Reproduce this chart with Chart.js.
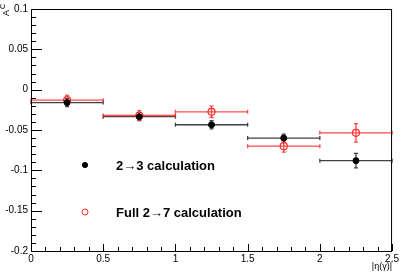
<!DOCTYPE html>
<html>
<head>
<meta charset="utf-8">
<script src="https://cdn.jsdelivr.net/npm/chart.js@4/dist/chart.umd.min.js"></script>
<style>
  html, body { margin: 0; padding: 0; background: #fff; }
  #wrap { width: 401px; height: 273px; }
</style>
</head>
<body>
<div id="wrap"><canvas id="asym"></canvas></div>
<script>
// bin centres and half widths in |eta(gamma)|
const etaCentres = [0.25, 0.75, 1.25, 1.75, 2.25];
const etaHalfWidth = [0.25, 0.25, 0.25, 0.25, 0.25];

// 2->3 calculation
const ac23 = [-0.016, -0.0335, -0.0435, -0.060, -0.088];
const ac23Err = [0.005, 0.005, 0.005, 0.005, 0.009];

// full 2->7 calculation
const ac27 = [-0.013, -0.032, -0.0275, -0.070, -0.0535];
const ac27Err = [0.006, 0.006, 0.007, 0.0075, 0.0115];

const xTicks = [0, 0.5, 1, 1.5, 2, 2.5];
const yTicks = [0.1, 0.05, 0, -0.05, -0.1, -0.15, -0.2];

const legendLabels = ["2\u21923 calculation", "Full 2\u21927 calculation"];

const BLACK = "#000000";
const RED = "#ff2a2a";

function points(vals) {
    return etaCentres.map((x, i) => ({ x: x, y: vals[i] }));
}

// draws x and y error bars using the chart scales
const errorBars = {
    id: "errorBars",
    beforeDatasetsDraw(chart) {
        const ctx = chart.ctx;
        const xs = chart.scales.x, ys = chart.scales.y;
        chart.data.datasets.forEach(ds => {
            ctx.save();
            ctx.strokeStyle = ds.barColor;
            ctx.lineWidth = 1.3;
            ds.data.forEach((p, i) => {
                const x0 = xs.getPixelForValue(p.x - etaHalfWidth[i]);
                const x1 = Math.min(xs.getPixelForValue(p.x + etaHalfWidth[i]), chart.chartArea.right);
                const yc = ys.getPixelForValue(p.y);
                const xc = xs.getPixelForValue(p.x);
                const ylo = ys.getPixelForValue(p.y - ds.err[i]);
                const yhi = ys.getPixelForValue(p.y + ds.err[i]);
                ctx.beginPath();
                ctx.moveTo(x0, yc); ctx.lineTo(x1, yc);
                ctx.moveTo(x0, yc - 2); ctx.lineTo(x0, yc + 2);
                ctx.moveTo(x1, yc - 2); ctx.lineTo(x1, yc + 2);
                ctx.moveTo(xc, ylo); ctx.lineTo(xc, yhi);
                ctx.moveTo(xc - 2, ylo); ctx.lineTo(xc + 2, ylo);
                ctx.moveTo(xc - 2, yhi); ctx.lineTo(xc + 2, yhi);
                ctx.stroke();
            });
            ctx.restore();
        });
    }
};

// ROOT style frame, inward ticks, titles and legend
const rootFrame = {
    id: "rootFrame",
    afterDraw(chart) {
        const ctx = chart.ctx;
        const a = chart.chartArea;
        const xs = chart.scales.x, ys = chart.scales.y;
        ctx.save();
        ctx.strokeStyle = "#000";
        ctx.lineWidth = 1;
        ctx.strokeRect(a.left + 0.5, a.top + 0.5, a.right - a.left - 1, a.bottom - a.top);

        ctx.beginPath();
        for (let v = -0.2; v <= 0.1001; v += 0.01) {
            const y = Math.round(ys.getPixelForValue(v)) + 0.5;
            const major = Math.abs(Math.round(v * 100) % 5) === 0;
            ctx.moveTo(a.left, y);
            ctx.lineTo(a.left + (major ? 11 : 5), y);
        }
        for (let v = 0; v <= 2.5001; v += 0.1) {
            const x = Math.round(xs.getPixelForValue(v)) + 0.5;
            const major = Math.round(v * 10) % 5 === 0;
            ctx.moveTo(x, a.bottom);
            ctx.lineTo(x, a.bottom - (major ? 7 : 4));
        }
        ctx.stroke();

        // axis titles
        ctx.fillStyle = "#000";
        ctx.font = "9px 'Liberation Sans', Arial, sans-serif";
        ctx.textAlign = "right";
        ctx.textBaseline = "middle";
        ctx.fillText("|\u03b7(\u03b3)|", a.right, 267);

        ctx.save();
        ctx.translate(9, 16);
        ctx.rotate(-Math.PI / 2);
        ctx.textAlign = "left";
        ctx.textBaseline = "alphabetic";
        ctx.font = "9px 'Liberation Sans', Arial, sans-serif";
        ctx.fillText("A", 0, 0);
        ctx.font = "7px 'Liberation Sans', Arial, sans-serif";
        ctx.fillText("C", 7, -4);
        ctx.restore();

        // legend
        const rows = [
            { y: 165, label: legendLabels[0], fill: BLACK, stroke: BLACK, r: 2.6 },
            { y: 212, label: legendLabels[1], fill: null, stroke: RED, r: 3 }
        ];
        ctx.font = "bold 13px 'Liberation Sans', Arial, sans-serif";
        ctx.textAlign = "left";
        ctx.textBaseline = "middle";
        rows.forEach(r => {
            ctx.beginPath();
            ctx.arc(85, r.y, r.r, 0, Math.PI * 2);
            if (r.fill) { ctx.fillStyle = r.fill; ctx.fill(); }
            ctx.strokeStyle = r.stroke;
            ctx.lineWidth = 1;
            ctx.stroke();
            ctx.fillStyle = "#000";
            ctx.fillText(r.label, 116, r.y + 1);
        });
        ctx.restore();
    }
};

const fmt = v => String(Number(v.toFixed(2)));

new Chart(document.getElementById("asym"), {
    type: "scatter",
    data: {
        datasets: [
            {
                label: legendLabels[0],
                data: points(ac23),
                err: ac23Err,
                barColor: "rgba(0,0,0,0.75)",
                pointRadius: 3,
                pointBackgroundColor: BLACK,
                pointBorderColor: BLACK,
                pointBorderWidth: 1
            },
            {
                label: legendLabels[1],
                data: points(ac27),
                err: ac27Err,
                barColor: "rgba(255,40,40,0.85)",
                pointRadius: 3.5,
                pointBackgroundColor: "rgba(0,0,0,0)",
                pointBorderColor: RED,
                pointBorderWidth: 1.2
            }
        ]
    },
    options: {
        responsive: true,
        maintainAspectRatio: false,
        animation: false,
        layout: { padding: { top: 3, right: 6, left: 0, bottom: 0 } },
        scales: {
            x: {
                type: "linear",
                min: 0,
                max: 2.5,
                afterFit: s => { s.height = 22; },
                afterBuildTicks: s => { s.ticks = xTicks.map(v => ({ value: v })); },
                grid: { display: false, drawTicks: false },
                border: { display: false },
                ticks: {
                    padding: 2,
                    color: "#000",
                    maxRotation: 0,
                    autoSkip: false,
                    font: { family: "'Liberation Sans', Arial, sans-serif", size: 10 },
                    callback: fmt
                }
            },
            y: {
                type: "linear",
                min: -0.2,
                max: 0.1,
                afterFit: s => { s.width = 31; },
                afterBuildTicks: s => { s.ticks = yTicks.map(v => ({ value: v })); },
                grid: { display: false, drawTicks: false },
                border: { display: false },
                ticks: {
                    padding: 3,
                    color: "#000",
                    autoSkip: false,
                    font: { family: "'Liberation Sans', Arial, sans-serif", size: 10 },
                    callback: fmt
                }
            }
        },
        plugins: {
            legend: { display: false },
            tooltip: { enabled: false }
        }
    },
    plugins: [errorBars, rootFrame]
});
</script>
</body>
</html>
